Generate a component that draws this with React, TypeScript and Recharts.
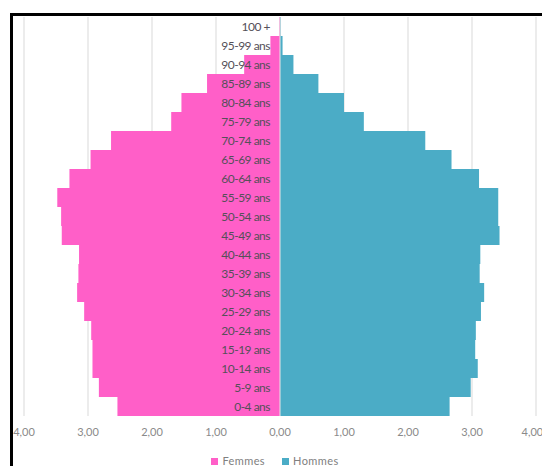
import { Bar, BarChart, CartesianGrid, LabelList, Legend, ReferenceLine, XAxis, YAxis } from "recharts";

// age groups, top to bottom as drawn
const ageGroups = [
  "100 +", "95-99 ans", "90-94 ans", "85-89 ans", "80-84 ans", "75-79 ans", "70-74 ans",
  "65-69 ans", "60-64 ans", "55-59 ans", "50-54 ans", "45-49 ans", "40-44 ans", "35-39 ans",
  "30-34 ans", "25-29 ans", "20-24 ans", "15-19 ans", "10-14 ans", "5-9 ans", "0-4 ans",
];

// share of population (%)
const femmes = [
  0.01, 0.15, 0.56, 1.14, 1.54, 1.7, 2.64,
  2.96, 3.29, 3.48, 3.42, 3.41, 3.14, 3.15,
  3.17, 3.06, 2.95, 2.93, 2.93, 2.83, 2.54,
];
const hommes = [
  0.01, 0.04, 0.21, 0.6, 1.0, 1.31, 2.27,
  2.68, 3.11, 3.41, 3.41, 3.43, 3.13, 3.12,
  3.19, 3.14, 3.06, 3.05, 3.09, 2.98, 2.65,
];

const xTicks = [-4, -3, -2, -1, 0, 1, 2, 3, 4];

const data = ageGroups.map((age, i) => ({
  age,
  Femmes: -femmes[i],
  Hommes: hommes[i],
}));

const W = 542;
const H = 466;
// plot height 399 = 21 rows x 19px, so bands land on whole pixels
const margin = { top: 17, right: 6, left: 24, bottom: 6 };
const PINK = "#ff5fc8";
const TEAL = "#4bacc6";

const fmt = (v: number) => Math.abs(v).toFixed(2).replace(".", ",");

// age label drawn just left of the zero line (x of the Hommes bar)
function AgeLabel(props: any) {
  const { x, y, height, value } = props;
  return (
    <text x={x - 10} y={y + height / 2} dy="0.35em" textAnchor="end" fontSize={12} fill="#555059" letterSpacing={-0.5}>
      {value}
    </text>
  );
}

function LegendBox() {
  const items = [
    { name: "Femmes", color: PINK },
    { name: "Hommes", color: TEAL },
  ];
  return (
    <div style={{ display: "flex", justifyContent: "center", gap: 17, height: 14, fontSize: 11, color: "#808080", lineHeight: "14px", letterSpacing: 0.4, paddingLeft: 8 }}>
      {items.map((it) => (
        <span key={it.name} style={{ display: "flex", alignItems: "center" }}>
          <span style={{ width: 7, height: 7, background: it.color, marginRight: 4, display: "inline-block" }} />
          {it.name}
        </span>
      ))}
    </div>
  );
}

export default function App() {
  return (
    <div style={{ position: "absolute", left: 0, top: 0, width: W, height: H, background: "#fff", fontFamily: "Lato, 'Open Sans', sans-serif", overflow: "hidden" }}>
      <div
        style={{
          position: "absolute",
          left: 10,
          top: 13,
          width: W - 10,
          height: H - 13,
          borderTop: "3px solid #000",
          borderLeft: "3px solid #000",
          boxSizing: "border-box",
        }}
      />
      <div style={{ position: "absolute", left: 0, top: 0 }}>
        <BarChart
          width={W}
          height={H}
          data={data}
          layout="vertical"
          stackOffset="sign"
          barCategoryGap={0}
          margin={margin}
        >
          <CartesianGrid horizontal={false} stroke="#d9d9d9" />
          <XAxis
            type="number"
            domain={[-4, 4]}
            ticks={xTicks}
            tickFormatter={fmt}
            axisLine={false}
            tickLine={false}
            tickMargin={6}
            height={30}
            tick={{ fontSize: 11, fill: "#8a8a8a" }}
          />
          <YAxis type="category" dataKey="age" hide />
          <Bar dataKey="Femmes" stackId="a" fill={PINK} isAnimationActive={false} />
          <ReferenceLine x={0} stroke="#e6e6e6" strokeWidth={1} />
          <Bar dataKey="Hommes" stackId="a" fill={TEAL} isAnimationActive={false}>
            <LabelList dataKey="age" content={<AgeLabel />} />
          </Bar>
          <Legend verticalAlign="bottom" content={<LegendBox />} wrapperStyle={{ top: 454, bottom: "auto", left: 0, width: W }} />
        </BarChart>
      </div>
    </div>
  );
}
